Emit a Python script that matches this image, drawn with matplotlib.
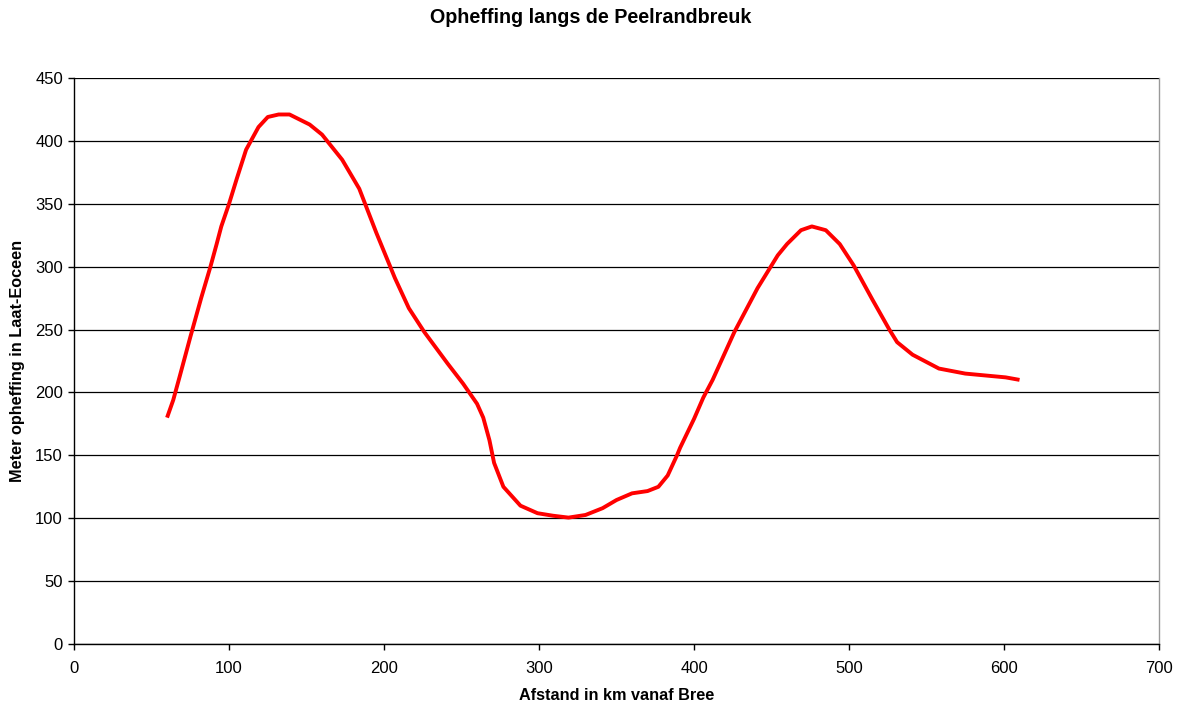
import matplotlib
matplotlib.use("Agg")
import matplotlib.pyplot as plt

# afstand (km vanaf Bree) en opheffing (m)
afstand = [60, 64, 68, 75, 82, 88, 92, 95, 100, 105, 111, 119, 125, 132, 139,
           152, 160, 173, 184, 195, 207, 216, 226, 241, 251, 260, 264, 268, 271,
           277, 288, 299, 309, 319, 330, 341, 350, 360, 370, 377, 383, 389, 391,
           400, 406, 412, 426, 441, 454, 460, 469, 476, 485, 494, 503, 515, 526,
           531, 541, 558, 575, 601, 610]
opheffing = [180, 194, 212, 244, 275, 300, 318, 332, 350, 370, 393, 411, 419, 421, 421,
             413, 405, 385, 362, 327, 291, 267, 248, 223, 207, 191, 180, 162, 144,
             125, 110, 104, 102, 100.5, 102.6, 108, 114.5, 119.8, 121.6, 125, 134, 150, 156,
             179, 196, 210, 248, 283, 309, 318, 329, 332, 329, 318, 301, 274, 250,
             240, 230, 219, 215, 212, 210]

plt.rcParams['font.family'] = ['Liberation Sans', 'DejaVu Sans']

fig = plt.figure(figsize=(11.81, 7.04), dpi=100)
ax = fig.add_axes([0.0627, 0.0852, 0.9187, 0.804])

ax.plot(afstand, opheffing, color='#ff0000', lw=2.8, solid_capstyle='butt')

ax.set_xlim(0, 700)
ax.set_ylim(0, 450)
ax.set_xticks(range(0, 701, 100))
ax.set_yticks(range(0, 451, 50))
ax.yaxis.grid(True, color='black', lw=0.9)
ax.set_axisbelow(True)

for s in ['left', 'bottom']:
    ax.spines[s].set_color('black')
    ax.spines[s].set_linewidth(1.0)
ax.spines['top'].set_visible(False)
ax.spines['right'].set_color('#999999')
ax.spines['right'].set_linewidth(1.0)

ax.tick_params(direction='out', length=4, width=1, labelsize=12)
ax.tick_params(axis='x', pad=8)
ax.tick_params(axis='y', pad=4)

ax.set_xlabel('Afstand in km vanaf Bree', fontsize=11.7, fontweight='bold', labelpad=9)
ax.set_ylabel('Meter opheffing in Laat-Eoceen', fontsize=11.7, fontweight='bold', labelpad=7)
fig.suptitle('Opheffing langs de Peelrandbreuk', fontsize=14.2, fontweight='bold', y=0.988)

fig.savefig('out.png', dpi=100)
